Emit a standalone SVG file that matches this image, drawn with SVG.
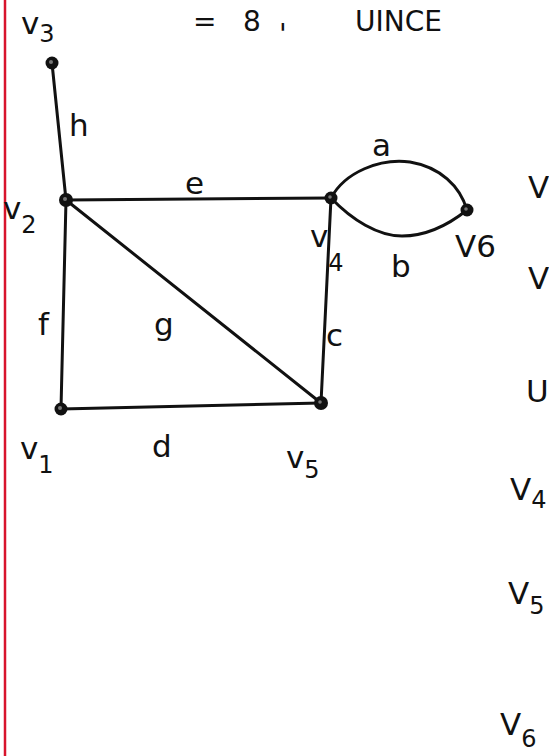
<svg xmlns="http://www.w3.org/2000/svg" width="549" height="756" viewBox="0 0 549 756">
<style>
.lbl{font-family:"DejaVu Sans","Liberation Sans",sans-serif;font-size:31px;fill:#111}
.sub{font-size:24px}
.edge{stroke:#111;stroke-width:3;fill:none;stroke-linecap:round}
.dot{fill:#111}
.hi{fill:#777}
.top{font-size:28px}
</style>
<rect x="0" y="0" width="549" height="756" fill="#ffffff"/>
<line x1="5" y1="0" x2="5" y2="756" stroke="#d8142c" stroke-width="2.5"/>
<g id="page-text">
<text class="lbl top" x="193" y="31">=</text>
<text class="lbl top" x="243" y="31">8</text>
<text class="lbl top" x="279" y="44">'</text>
<text class="lbl top" x="355" y="31">UINCE</text>
<text class="lbl" x="528" y="198">V</text>
<text class="lbl" x="528" y="289">V</text>
<text class="lbl" x="526" y="402">U</text>
<text class="lbl" x="510" y="500">V<tspan class="sub" dy="8">4</tspan></text>
<text class="lbl" x="508" y="604">V<tspan class="sub" dy="10">5</tspan></text>
<text class="lbl" x="500" y="735">V<tspan class="sub" dy="12">6</tspan></text>
</g>
<g id="connectors">
<line id="h" class="edge" x1="52" y1="63" x2="66" y2="200"/>
<line id="e" class="edge" x1="66" y1="200" x2="331" y2="198"/>
<path id="a" class="edge" d="M331,198 C345,172 380,158 410,162 C440,167 460,186 467,210"/>
<path id="b" class="edge" d="M331,198 C352,220 378,236 402,236 C430,236 452,222 467,210"/>
<line id="c" class="edge" x1="331" y1="198" x2="321" y2="403"/>
<line id="g" class="edge" x1="66" y1="200" x2="321" y2="403"/>
<line id="d" class="edge" x1="61" y1="409" x2="321" y2="403"/>
<line id="f" class="edge" x1="66" y1="200" x2="61" y2="409"/>
<text class="lbl" x="69" y="136">h</text>
<text class="lbl" x="372" y="156">a</text>
<text class="lbl" x="185" y="194">e</text>
<text class="lbl" x="391" y="277">b</text>
<text class="lbl" x="38" y="335">f</text>
<text class="lbl" x="154" y="335">g</text>
<text class="lbl" x="326" y="346">c</text>
<text class="lbl" x="152" y="457">d</text>
</g>
<g id="v3"><circle class="dot" cx="52" cy="63" r="6.5"/><circle class="hi" cx="51" cy="62" r="2"/><text class="lbl" x="21" y="34">v<tspan class="sub" dy="8">3</tspan></text></g>
<g id="v2"><circle class="dot" cx="66" cy="200" r="7"/><circle class="hi" cx="65" cy="199" r="2"/><text class="lbl" x="3" y="219">v<tspan class="sub" dy="14">2</tspan></text></g>
<g id="v4"><circle class="dot" cx="331" cy="198" r="6.5"/><circle class="hi" cx="330" cy="197" r="1.8"/><text class="lbl" x="310" y="247">v<tspan class="sub" dy="24">4</tspan></text></g>
<g id="v6"><circle class="dot" cx="467" cy="210" r="6.5"/><circle class="hi" cx="466" cy="209" r="1.8"/><text class="lbl" x="455" y="257">V6</text></g>
<g id="v5"><circle class="dot" cx="321" cy="403" r="7"/><circle class="hi" cx="320" cy="402" r="1.8"/><text class="lbl" x="286" y="468">v<tspan class="sub" dy="10">5</tspan></text></g>
<g id="v1"><circle class="dot" cx="61" cy="409" r="6.5"/><circle class="hi" cx="60" cy="408" r="2"/><text class="lbl" x="20" y="459">v<tspan class="sub" dy="14">1</tspan></text></g>
</svg>
